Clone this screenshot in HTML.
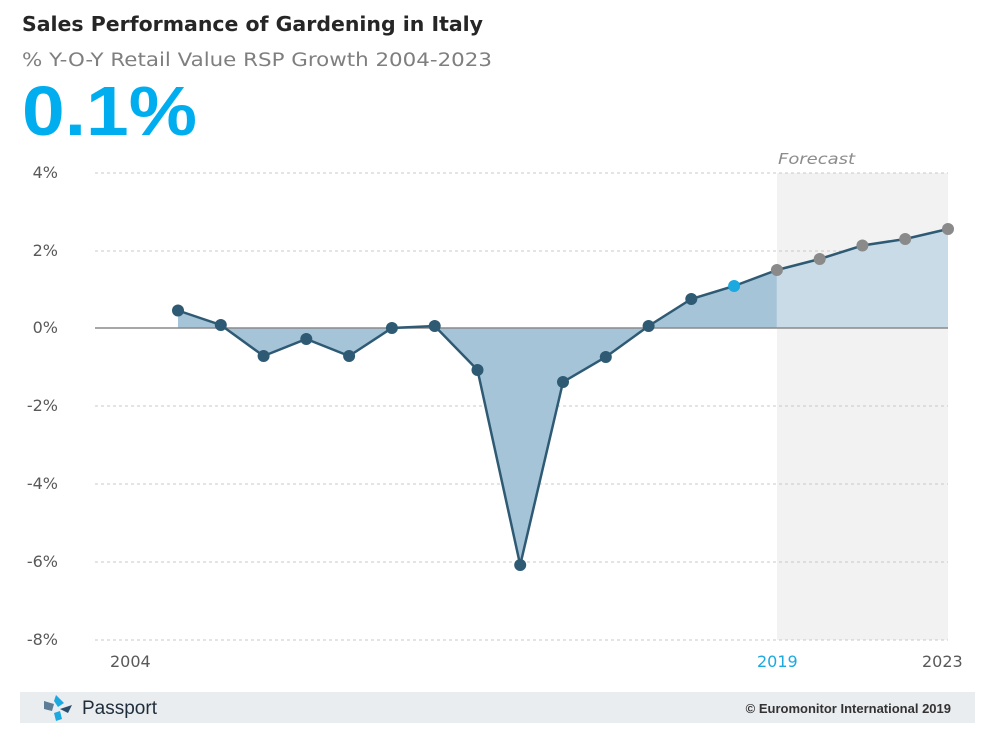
<!DOCTYPE html>
<html><head><meta charset="utf-8"><style>
body{margin:0;background:#fff;width:1000px;height:742px;overflow:hidden;font-family:"Liberation Sans",sans-serif}
</style></head><body>
<svg width="1000" height="742" xmlns="http://www.w3.org/2000/svg" style="position:absolute;left:0;top:0">
<text x="22" y="31" font-size="20" font-weight="bold" fill="#262626" font-family="DejaVu Sans" textLength="461" lengthAdjust="spacingAndGlyphs">Sales Performance of Gardening in Italy</text>
<text x="22" y="66" font-size="18.5" fill="#7f7f7f" font-family="DejaVu Sans" textLength="470" lengthAdjust="spacingAndGlyphs">% Y-O-Y Retail Value RSP Growth 2004-2023</text>
<text x="22" y="135" font-size="70" font-weight="bold" fill="#00aeef" font-family="Liberation Sans" textLength="175" lengthAdjust="spacingAndGlyphs">0.1%</text>
<rect x="777" y="173" width="171" height="467" fill="#f2f2f2"/>
<text x="778" y="164" font-size="15" font-style="italic" fill="#8c8c8c" font-family="DejaVu Sans" textLength="77" lengthAdjust="spacingAndGlyphs">Forecast</text>
<g stroke="#c8c8c8" stroke-dasharray="3,3" stroke-width="1">
<line x1="95" y1="173" x2="948" y2="173"/><line x1="95" y1="251" x2="948" y2="251"/>
<line x1="95" y1="406" x2="948" y2="406"/><line x1="95" y1="484" x2="948" y2="484"/>
<line x1="95" y1="562" x2="948" y2="562"/><line x1="95" y1="640" x2="948" y2="640"/>
</g>
<g font-size="16" fill="#595959" text-anchor="end" font-family="DejaVu Sans">
<text x="58" y="178">4%</text><text x="58" y="256">2%</text><text x="58" y="333">0%</text>
<text x="58" y="411">-2%</text><text x="58" y="489">-4%</text><text x="58" y="567">-6%</text><text x="58" y="645">-8%</text>
</g>
<polygon fill="#a6c4d8" points="178,328 178,310.5 220.8,325 263.6,356 306.3,339 349.1,356 391.9,328 434.7,326 477.5,370 520.2,565 563,382 605.8,357 648.6,326 691.3,299 734.1,286 776.9,270 776.9,328"/>
<polygon fill="#c9dbe6" points="776.9,328 776.9,270 819.7,259 862.4,245.5 905.2,239 948,229 948,328"/>
<line x1="95" y1="328" x2="948" y2="328" stroke="#8a8a8a" stroke-width="1.5"/>
<polyline fill="none" stroke="#2e5a74" stroke-width="2.5" points="178,310.5 220.8,325 263.6,356 306.3,339 349.1,356 391.9,328 434.7,326 477.5,370 520.2,565 563,382 605.8,357 648.6,326 691.3,299 734.1,286 776.9,270"/>
<polyline fill="none" stroke="#2e5a74" stroke-width="2.5" points="776.9,270 819.7,259 862.4,245.5 905.2,239 948,229"/>
<g fill="#2e5a74">
<circle cx="178" cy="310.5" r="6"/><circle cx="220.8" cy="325" r="6"/><circle cx="263.6" cy="356" r="6"/><circle cx="306.3" cy="339" r="6"/><circle cx="349.1" cy="356" r="6"/><circle cx="391.9" cy="328" r="6"/><circle cx="434.7" cy="326" r="6"/><circle cx="477.5" cy="370" r="6"/><circle cx="520.2" cy="565" r="6"/><circle cx="563" cy="382" r="6"/><circle cx="605.8" cy="357" r="6"/><circle cx="648.6" cy="326" r="6"/><circle cx="691.3" cy="299" r="6"/>
</g>
<circle cx="734.1" cy="286" r="6" fill="#1ba9e0"/>
<g fill="#8a8a8a">
<circle cx="776.9" cy="270" r="6"/><circle cx="819.7" cy="259" r="6"/><circle cx="862.4" cy="245.5" r="6"/><circle cx="905.2" cy="239" r="6"/><circle cx="948" cy="229" r="6"/>
</g>
<g font-size="16" font-family="DejaVu Sans">
<text x="110" y="667" fill="#595959">2004</text>
<text x="757" y="667" fill="#1ba9e0">2019</text>
<text x="922" y="667" fill="#595959">2023</text>
</g>
<rect x="20" y="692" width="955" height="31" fill="#e9edf0"/>
<g transform="translate(58,707)">
<polygon points="-14,-6 -4,-3 -6,4 -14,2" fill="#5b7d95"/>
<polygon points="-2,-12 6,-4 0,0 -4,-6" fill="#1ba9e0"/>
<polygon points="2,2 14,-2 10,6" fill="#2b4f6b"/>
<polygon points="-4,6 2,4 4,12 -2,14" fill="#1ba9e0"/>
</g>
<text x="82" y="714" font-size="19" fill="#1f2d3a">Passport</text>
<text x="951" y="713" font-size="13" font-weight="bold" fill="#333" text-anchor="end">© Euromonitor International 2019</text>
</svg>
</body></html>
